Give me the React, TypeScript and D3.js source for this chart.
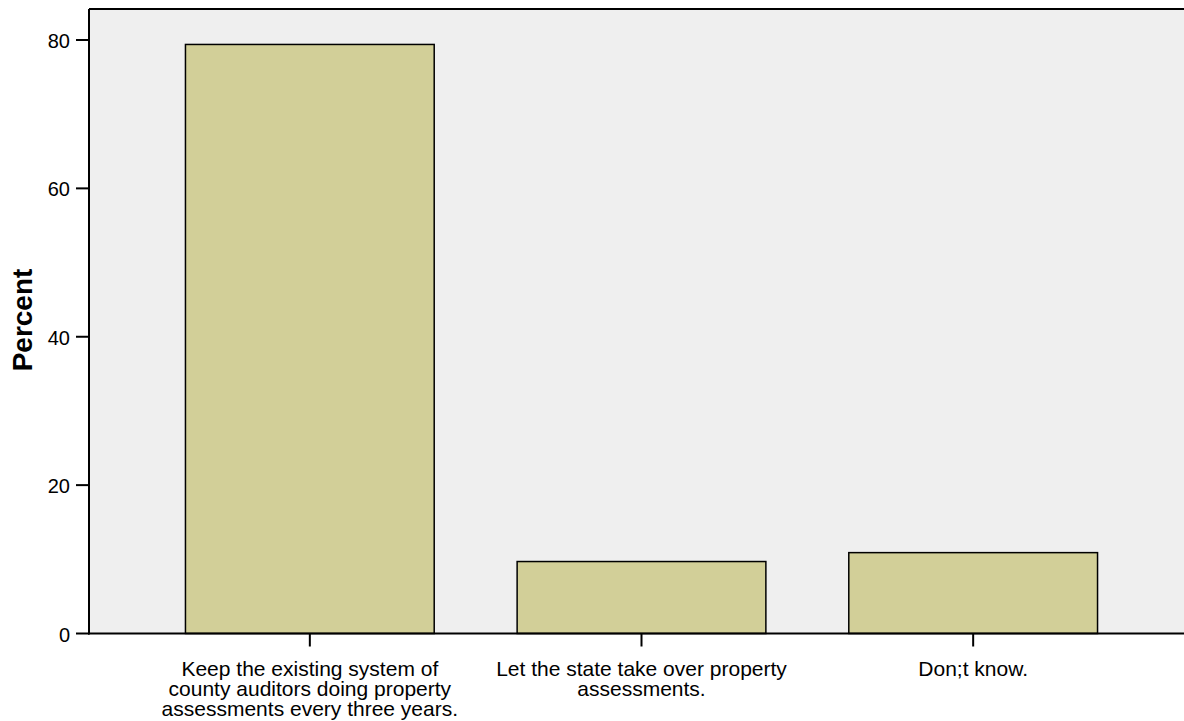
import React from "react";
import * as d3 from "d3";

const categories = [
  ["Keep the existing system of", "county auditors doing property", "assessments every three years."],
  ["Let the state take over property", "assessments."],
  ["Don;t know."],
];
const categoryKeys = ["keep", "state", "dontknow"];
const percents = [79.4, 9.7, 10.9];
const yTicks = [0, 20, 40, 60, 80];

export default function App() {
  const W = 1184, H = 721;
  const plotLeft = 89, plotTop = 9, plotRight = 1190, plotBottom = 633.5;
  const x = d3.scaleBand<string>().domain(categoryKeys).range([144, 1139]).paddingInner(0.25).paddingOuter(0.125);
  const y = d3.scaleLinear().domain([0, 80]).range([plotBottom, 40]);
  const font = "'Liberation Sans', Arial, sans-serif";
  return (
    <svg width={W} height={H} style={{ position: "absolute", left: 0, top: 0, background: "#fff" }}>
      <rect x={plotLeft} y={plotTop} width={plotRight - plotLeft} height={plotBottom - plotTop} fill="#efefef" />
      <line x1={plotLeft} x2={plotRight} y1={plotTop} y2={plotTop} stroke="#000" strokeWidth={2} />
      {categoryKeys.map((k, i) => (
        <rect key={k} x={x(k)!} y={y(percents[i])} width={x.bandwidth()} height={y(0) - y(percents[i])}
          fill="#d2cf98" stroke="#000" strokeWidth={1.5} />
      ))}
      <line x1={plotLeft} x2={plotLeft} y1={plotTop} y2={plotBottom + 1} stroke="#000" strokeWidth={2} />
      <line x1={plotLeft - 1} x2={plotRight} y1={plotBottom} y2={plotBottom} stroke="#000" strokeWidth={2} />
      {yTicks.map((t) => (
        <g key={t}>
          <line x1={76} x2={plotLeft} y1={y(t)} y2={y(t)} stroke="#000" strokeWidth={2} />
          <text x={70} y={y(t) + 1} dy="0.35em" textAnchor="end" fontFamily={font} fontSize={20} fill="#000">{t}</text>
        </g>
      ))}
      {categoryKeys.map((k, i) => {
        const cx = x(k)! + x.bandwidth() / 2;
        return (
          <g key={k}>
            <line x1={cx} x2={cx} y1={plotBottom} y2={plotBottom + 13} stroke="#000" strokeWidth={2} />
            {categories[i].map((line, j) => (
              <text key={j} x={cx} y={675.5 + j * 20} textAnchor="middle" fontFamily={font} fontSize={21} fill="#000">{line}</text>
            ))}
          </g>
        );
      })}
      <text transform={`translate(31.5,320) rotate(-90)`} textAnchor="middle" fontFamily={font} fontSize={28} fontWeight="bold" fill="#000">Percent</text>
    </svg>
  );
}
